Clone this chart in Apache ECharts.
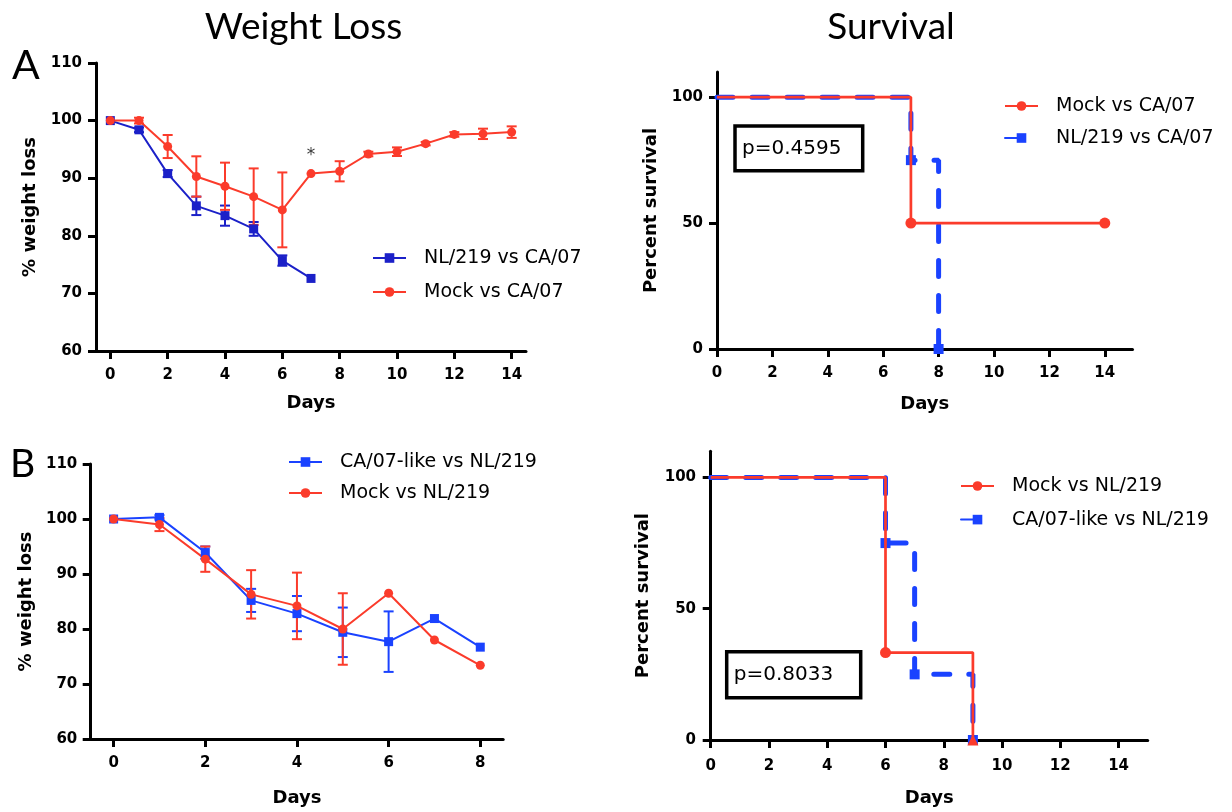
<!DOCTYPE html>
<html><head><meta charset="utf-8">
<script src="https://cdn.jsdelivr.net/npm/echarts@6/dist/echarts.min.js"></script>
<style>
html,body{margin:0;padding:0;background:#fff;}
#wrap{position:relative;width:1232px;height:812px;overflow:hidden;}
.c{position:absolute;}
</style></head><body>
<div id="wrap">
<div id="tl" class="c" style="left:0;top:0;width:616px;height:420px"></div>
<div id="tr" class="c" style="left:616px;top:0;width:616px;height:420px"></div>
<div id="bl" class="c" style="left:0;top:420px;width:616px;height:392px"></div>
<div id="br" class="c" style="left:616px;top:420px;width:616px;height:392px"></div>
</div>
<script>
// ---------- data ----------
const daysA = [0,1,2,3,4,5,6,7,8,9,10,11,12,13,14];
const nlA = [100, 98.4, 90.8, 85.2, 83.5, 81.2, 75.7, 72.6];
const nlAErr = [0, 0.4, 0.6, 1.6, 1.75, 1.2, 0.9, 0];
const mockA = [100, 100, 95.5, 90.3, 88.6, 86.8, 84.5, 90.8, 91.2, 94.2, 94.6, 96.0, 97.6, 97.7, 98.0];
const mockAErr = [0, 0.5, 2.0, 3.5, 4.1, 4.9, 6.5, 0, 1.75, 0.4, 0.75, 0.3, 0.4, 0.9, 1.0];
const starA = [[7, 93.9]];

const daysB = [0,1,2,3,4,5,6,7,8];
const caB = [100, 100.3, 93.9, 85.2, 82.8, 79.4, 77.7, 81.9, 76.7];
const caBErr = [0, 0.4, 1.1, 2.1, 3.2, 4.5, 5.5, 0, 0];
const mockB = [100, 99.0, 92.7, 86.3, 84.2, 80.0, 86.5, 78.0, 73.4];
const mockBErr = [0, 1.2, 2.3, 4.4, 6.05, 6.5, 0, 0, 0];

const survMockA = [[0,100],[7,50],[14,50]];
const survNlA = [[0,100],[7,75],[8,0]];
const survMockB = [[0,100],[6,33.3],[9,0]];
const survCaB = [[0,100],[6,75],[7,25],[9,0]];

const weightTicks = [60,70,80,90,100,110];
const dayTicksA = [0,2,4,6,8,10,12,14];
const dayTicksB = [0,2,4,6,8];
const survTicks = [0,50,100];
const pA = 'p=0.4595';
const pB = 'p=0.8033';

// ---------- styles ----------
const RED = '#fb3b2b', BLUE_D = '#1b20c8', BLUE = '#1a42ff';
const TICKFONT = {fontFamily:'DejaVu Sans', fontWeight:'bold', fontSize:15, color:'#000'};
const NAMEFONT = {fontFamily:'DejaVu Sans', fontWeight:'bold', fontSize:18, color:'#000'};

function xAxis(min, max, ticks, margin, nameGap){
  return {type:'value', min:min, max:max, name:'Days', nameLocation:'middle', nameGap:nameGap,
    nameTextStyle:NAMEFONT,
    axisLine:{show:true, onZero:false, lineStyle:{color:'#000', width:3}},
    axisTick:{show:true, length:8, customValues:ticks, lineStyle:{color:'#000', width:3}},
    axisLabel:Object.assign({margin:margin, customValues:ticks}, TICKFONT),
    splitLine:{show:false}};
}
function yAxis(min, max, ticks, name, margin, nameGap){
  return {type:'value', min:min, max:max, name:name, nameLocation:'middle', nameGap:nameGap,
    nameTextStyle:NAMEFONT,
    axisLine:{show:true, onZero:false, lineStyle:{color:'#000', width:3}},
    axisTick:{show:true, length:8, customValues:ticks, lineStyle:{color:'#000', width:3}},
    axisLabel:Object.assign({margin:margin, customValues:ticks}, TICKFONT),
    splitLine:{show:false}};
}
function errSeries(days, vals, errs, color){
  return {type:'custom', silent:true, clip:false, z:2,
    data: vals.map((v,i)=>[days[i], v, errs[i]]),
    renderItem: function(params, api){
      const x = api.value(0), y = api.value(1), e = api.value(2);
      if (!e) return null;
      const t = api.coord([x, y+e]), b = api.coord([x, y-e]);
      const w = 5, st = {stroke:color, lineWidth:2};
      return {type:'group', children:[
        {type:'line', shape:{x1:t[0], y1:t[1], x2:b[0], y2:b[1]}, style:st},
        {type:'line', shape:{x1:t[0]-w, y1:t[1], x2:t[0]+w, y2:t[1]}, style:st},
        {type:'line', shape:{x1:b[0]-w, y1:b[1], x2:b[0]+w, y2:b[1]}, style:st}
      ]};
    }};
}
function lineSeries(name, days, vals, color, symbol){
  return {type:'line', name:name, data: vals.map((v,i)=>[days[i], v]), symbol:symbol, symbolSize:9,
    clip:false, z:3, lineStyle:{color:color, width:2}, itemStyle:{color:color}, emphasis:{disabled:true}};
}
function survSeries(name, pts, color, symbol, size, lineStyle, z, special){
  return {type:'line', name:name, step:'end', symbol:symbol, symbolSize:size, clip:false, z:z,
    data: pts.map((p,i)=>{
      if (i===0) return {value:p, symbol:'none'};
      if (special && special[i]) return {value:p, symbol:special[i]};
      return p;
    }),
    lineStyle:lineStyle, itemStyle:{color:color}, emphasis:{disabled:true}};
}
function legend(left, top, gap, names){
  return {orient:'vertical', left:left, top:top, padding:0, itemWidth:33, itemHeight:12, itemGap:gap,
    selectedMode:false, data:names,
    textStyle:{fontFamily:'DejaVu Sans', fontSize:19, color:'#000', lineHeight:20, padding:[0,0,0,13]}};
}
function txt(x, y, text, font, align){
  return {type:'text', x:x, y:y, silent:true,
    style:{text:text, font:font, fill:'#000', textAlign:align||'left', align:align||'left',
           textVerticalAlign:'middle', verticalAlign:'middle'}};
}
function pbox(x, y, w, h, text){
  return [
    {type:'rect', shape:{x:x, y:y, width:w, height:h}, style:{fill:'#fff', stroke:'#000', lineWidth:3.5}, silent:true},
    txt(x+7, y+h/2, text, '20px "DejaVu Sans"', 'left')
  ];
}

// ---------- top-left: weight loss A ----------
const cTL = echarts.init(document.getElementById('tl'), null, {renderer:'canvas'});
cTL.setOption({
  animation:false,
  grid:{left:96, top:63, width:430, height:288},
  xAxis: xAxis(-0.5, 14.5, dayTicksA, 17, 43),
  yAxis: yAxis(60, 110, weightTicks, '% weight loss', 14, 55),
  legend: legend(372, 248, 14, ['NL/219 vs CA/07', 'Mock vs CA/07']),
  graphic: [
    txt(303.5, 27, 'Weight Loss', '37px Lato', 'center'),
    txt(12, 66, 'A', '41px Lato', 'left')
  ],
  series: [
    errSeries(daysA, nlA, nlAErr, BLUE_D),
    lineSeries('NL/219 vs CA/07', daysA, nlA, BLUE_D, 'rect'),
    errSeries(daysA, mockA, mockAErr, RED),
    lineSeries('Mock vs CA/07', daysA, mockA, RED, 'circle'),
    {type:'scatter', data:starA, symbolSize:0, silent:true, z:4,
     label:{show:true, position:'inside', formatter:'*', fontFamily:'DejaVu Sans', fontSize:17, color:'#000'}}
  ]
});

// ---------- top-right: survival A ----------
const cTR = echarts.init(document.getElementById('tr'), null, {renderer:'canvas'});
cTR.setOption({
  animation:false,
  grid:{left:101, top:72, width:415.5, height:277},
  xAxis: xAxis(0, 15, dayTicksA, 17, 46),
  yAxis: yAxis(0, 110, survTicks, 'Percent survival', 14, 55),
  legend: legend(388, 96, 12, ['Mock vs CA/07', 'NL/219 vs CA/07']),
  graphic: [txt(275, 27, 'Survival', '37px Lato', 'center')].concat(pbox(119, 126, 127.7, 44.7, pA)),
  series: [
    survSeries('NL/219 vs CA/07', survNlA, BLUE, 'rect', 10,
      {color:BLUE, width:5, type:[16,19], cap:'round'}, 2),
    survSeries('Mock vs CA/07', survMockA, RED, 'circle', 11, {color:RED, width:2.7}, 3)
  ]
});

// ---------- bottom-left: weight loss B ----------
const cBL = echarts.init(document.getElementById('bl'), null, {renderer:'canvas'});
cBL.setOption({
  animation:false,
  grid:{left:90.7, top:44, width:412.5, height:275.3},
  xAxis: xAxis(-0.5, 8.5, dayTicksB, 16.5, 50),
  yAxis: yAxis(60, 110, weightTicks, '% weight loss', 13.4, 51),
  legend: legend(288, 32, 11, ['CA/07-like vs NL/219', 'Mock vs NL/219']),
  graphic: [txt(10, 44, 'B', '39px Lato', 'left')],
  series: [
    errSeries(daysB, caB, caBErr, BLUE),
    lineSeries('CA/07-like vs NL/219', daysB, caB, BLUE, 'rect'),
    errSeries(daysB, mockB, mockBErr, RED),
    lineSeries('Mock vs NL/219', daysB, mockB, RED, 'circle')
  ]
});

// ---------- bottom-right: survival B ----------
const cBR = echarts.init(document.getElementById('br'), null, {renderer:'canvas'});
cBR.setOption({
  animation:false,
  grid:{left:94.7, top:31.2, width:437, height:291.5},
  xAxis: xAxis(0, 15, dayTicksA, 19, 49),
  yAxis: yAxis(0, 110, survTicks, 'Percent survival', 14.7, 58),
  legend: legend(344, 56, 13.6, ['Mock vs NL/219', 'CA/07-like vs NL/219']),
  graphic: pbox(110.7, 231.7, 134, 46, pB),
  series: [
    survSeries('CA/07-like vs NL/219', survCaB, BLUE, 'rect', 10,
      {color:BLUE, width:5, type:[16,19], cap:'round'}, 2),
    survSeries('Mock vs NL/219', survMockB, RED, 'circle', 11, {color:RED, width:2.7}, 3, {2:'triangle'})
  ]
});
</script>
</body></html>
